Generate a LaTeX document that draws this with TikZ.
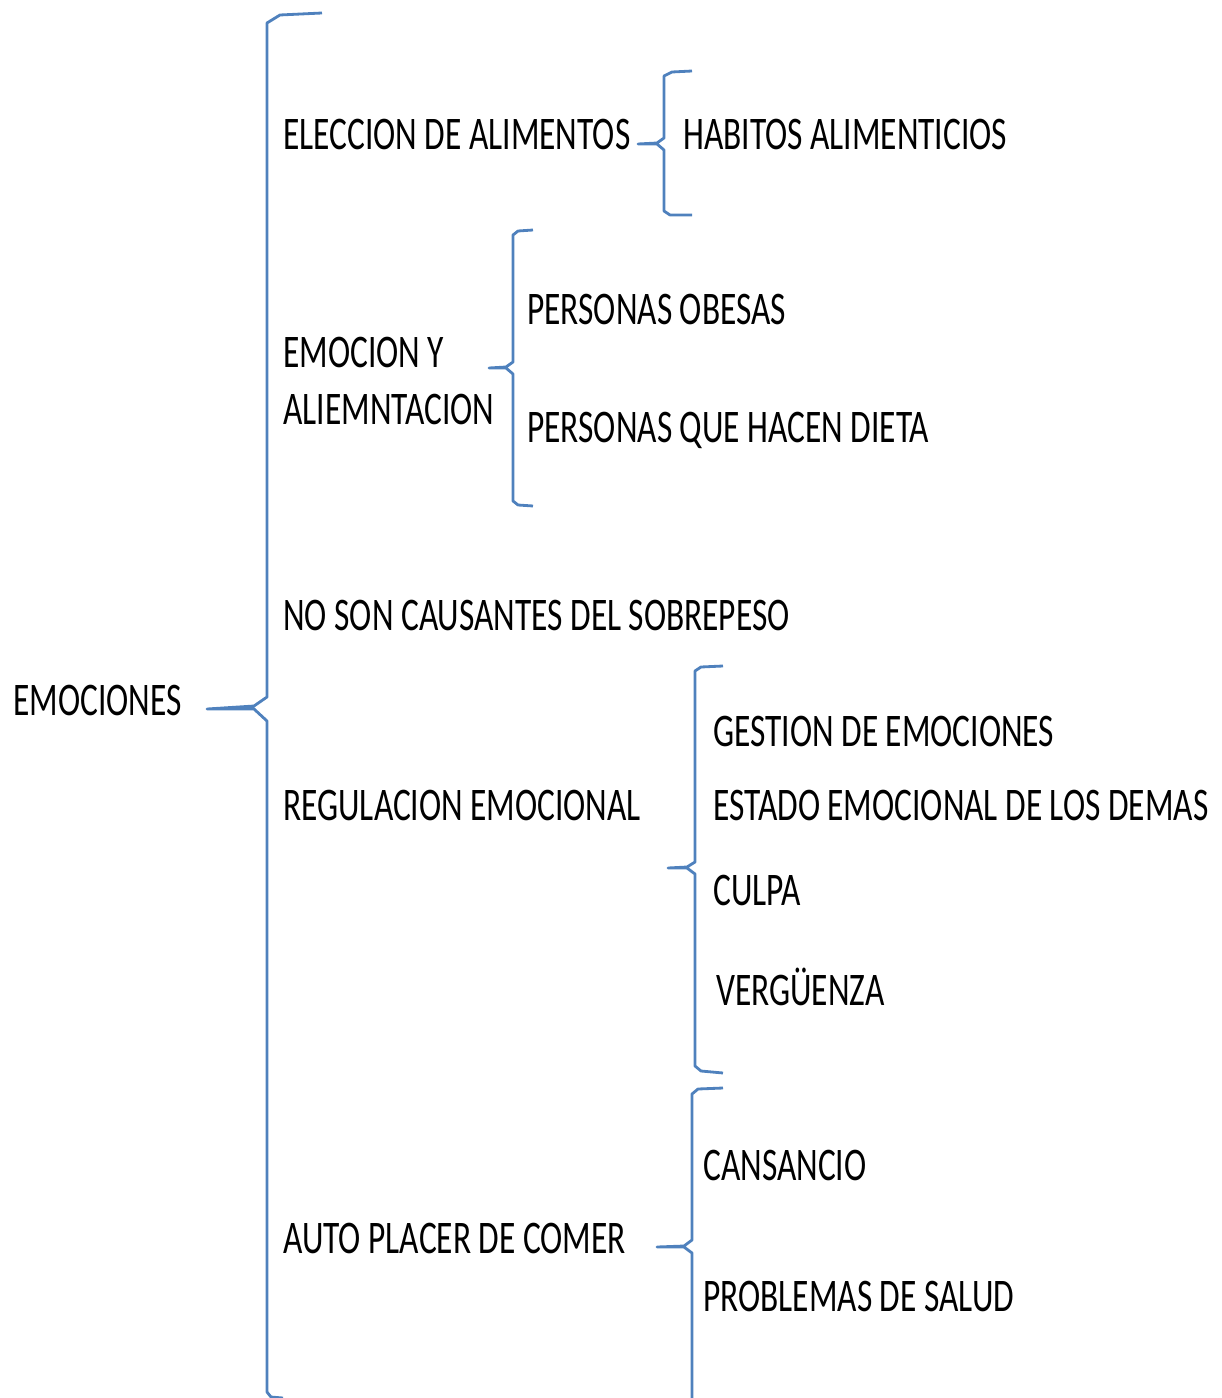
\documentclass[tikz,border=0pt]{standalone}
\usepackage{fontspec}
\setmainfont{Carlito}[FakeStretch=0.715]
\definecolor{braceblue}{RGB}{79,129,189}

\begin{document}
\begin{tikzpicture}
		[x=0.02cm, y=-0.02cm,
		txt/.style={anchor=base west, inner sep=0pt, font=\fontsize{26.6}{32.9}\selectfont},
		brace/.style={draw=braceblue, line width=1.6pt, line join=round}]
		\useasboundingbox (0,0) rectangle (1222,1398);
		% texts
		\node[txt] (emo) at (13,715) {EMOCIONES};
		\node[txt] (elec) at (283,150) {ELECCION DE ALIMENTOS};
		\node[txt] (habi) at (683,150) {HABITOS ALIMENTICIOS};
		\node[txt, anchor=west, align=left] (emoal) at (283,381) {EMOCION Y\\ALIEMNTACION};
		\node[txt] (obes) at (527,325) {PERSONAS OBESAS};
		\node[txt] (diet) at (527,442) {PERSONAS QUE HACEN DIETA};
		\node[txt] (noson) at (283,630) {NO SON CAUSANTES DEL SOBREPESO};
		\node[txt] (regu) at (283,820) {REGULACION EMOCIONAL};
		\node[txt] (gest) at (713,746) {GESTION DE EMOCIONES};
		\node[txt] (esta) at (713,820) {ESTADO EMOCIONAL DE LOS DEMAS};
		\node[txt] (culp) at (713,905) {CULPA};
		\node[txt] (verg) at (716,1005) {VERGÜENZA};
		\node[txt] (auto) at (283,1253) {AUTO PLACER DE COMER};
		\node[txt] (cans) at (703,1180) {CANSANCIO};
		\node[txt] (prob) at (703,1311) {PROBLEMAS DE SALUD};
		% brace tips
		\coordinate (tEmo) at (207,709);
		\coordinate (tElec) at (638,144);
		\coordinate (tEmoal) at (489,368);
		\coordinate (tRegu) at (668,868);
		\coordinate (tAuto) at (657,1247);
		% braces
		\draw[brace] (322,13) -- (280,15) -- (267,23) -- (267,697) -- (254,706)
			-- (tEmo) -- (254,709) -- (267,721) -- (267,1392) -- (271,1397) -- (283,1398);
		\draw[brace] (692,71) -- (672,72) -- (664,76) -- (664,138) -- (657,143)
			-- (tElec) -- (657,144) -- (664,150) -- (664,211) -- (670,215) -- (692,215);
		\draw[brace] (533,230) -- (518,231) -- (513,235) -- (513,362) -- (506,367)
			-- (tEmoal) -- (506,368) -- (513,374) -- (513,501) -- (518,505) -- (533,506);
		\draw[brace] (723,666) -- (701,667) -- (695,671) -- (695,862) -- (687,867)
			-- (tRegu) -- (687,868) -- (695,874) -- (695,1066) -- (701,1071) -- (723,1073);
		\draw[brace] (723,1088) -- (698,1089) -- (692,1094) -- (692,1240) -- (684,1246)
			-- (tAuto) -- (684,1247) -- (692,1253) -- (692,1400);
	\end{tikzpicture}
\end{document}
